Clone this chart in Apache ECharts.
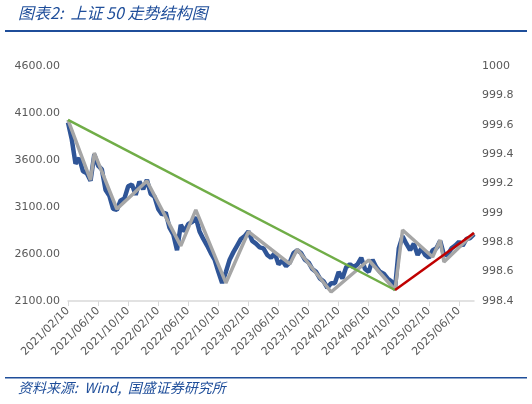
<!DOCTYPE html><html><head><meta charset="utf-8"><script src="https://cdn.jsdelivr.net/npm/echarts@6/dist/echarts.min.js"></script>
<style>body{margin:0;background:#fff}#c{width:532px;height:404px}</style></head><body><div id="c"></div><script>
const months=[];for(let y=2021;y<=2025;y++)for(let m=1;m<=12;m++){if(y===2021&&m<2)continue;if(y===2025&&m>8)continue;const mm=String(m).padStart(2,'0');months.push(y+'/'+mm+'/10');if(!(y===2025&&m===8))months.push(y+'/'+mm+'/25');}
const categories=months;
const blue=[4000,3820,3560,3620,3480,3460,3380,3660,3540,3500,3280,3220,3080,3070,3170,3190,3320,3340,3230,3370,3290,3390,3240,3210,3080,3020,3040,2880,2810,2640,2910,2840,2920,2940,2990,2840,2760,2690,2610,2540,2410,2290,2410,2540,2620,2690,2760,2790,2840,2740,2710,2670,2660,2590,2560,2610,2490,2530,2470,2510,2610,2640,2610,2540,2510,2440,2410,2340,2310,2240,2290,2290,2410,2340,2460,2490,2460,2490,2560,2440,2410,2540,2460,2410,2390,2340,2310,2240,2660,2790,2710,2640,2710,2590,2660,2590,2560,2640,2660,2740,2590,2590,2660,2690,2730,2690,2760,2770,2810];
const grayIdx=[0,6,7,13,21,30,34,42,48,55,59,61,70,80,87,89,97,99,100,108];
const grayVal=[4026,3387,3675,3079,3377,2686,3070,2292,2837,2620,2494,2650,2196,2536,2217,2855,2568,2749,2515,2823];
const greenIdx=[0,87],greenVal=[4026,2217];
const redIdx=[87,108],redVal=[2217,2823];
function build(idx,val){const a=categories.map(()=>null);idx.forEach((i,k)=>a[i]=val[k]);return a;}
const c=echarts.init(document.getElementById('c'));
c.setOption({animation:false,
graphic:[
{type:'text',left:18,top:5,style:{text:'图表2:  上证 50 走势结构图',font:'italic 16px "Noto Sans CJK SC"',fill:'#1f4e9a'}},
{type:'rect',shape:{x:5,y:30,width:522,height:2},style:{fill:'#1f4e9a'}},
{type:'rect',shape:{x:5,y:377,width:522,height:1.5},style:{fill:'#1f4e9a'}},
{type:'text',left:18,top:381,style:{text:'资料来源:  Wind,  国盛证券研究所',font:'italic 14px "Noto Sans CJK SC"',fill:'#1f4e9a'}}],
grid:{left:68,right:58,top:66,bottom:103},
xAxis:{type:'category',data:categories,boundaryGap:false,axisLine:{lineStyle:{color:'#d9d9d9',width:1.5}},axisTick:{interval:7,lineStyle:{color:'#d9d9d9'},length:5},axisLabel:{interval:7,rotate:45,color:'#595959',fontSize:11,fontFamily:'DejaVu Sans'}},
yAxis:[{type:'value',min:2100,max:4600,interval:500,splitLine:{show:false},axisLabel:{color:'#595959',fontSize:11,formatter:v=>v.toFixed(2),fontFamily:'DejaVu Sans'}},
{type:'value',min:998.4,max:1000,interval:0.2,splitLine:{show:false},axisLabel:{color:'#595959',fontSize:11,formatter:v=>String(+v.toFixed(1)),fontFamily:'DejaVu Sans'}}],
series:[
{type:'line',data:blue,symbol:'none',lineStyle:{color:'#2f5597',width:4.5}},
{type:'line',data:build(grayIdx,grayVal),connectNulls:true,symbol:'none',lineStyle:{color:'#a6a6a6',width:3.5}},
{type:'line',data:build(greenIdx,greenVal),connectNulls:true,symbol:'none',lineStyle:{color:'#70ad47',width:2.5}},
{type:'line',data:build(redIdx,redVal),connectNulls:true,symbol:'none',lineStyle:{color:'#c00000',width:2.5}},
{type:'line',yAxisIndex:1,data:[]}]});
</script></body></html>
